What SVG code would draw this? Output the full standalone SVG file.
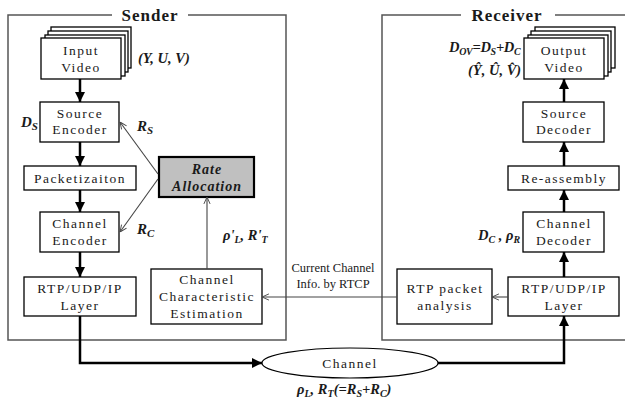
<svg xmlns="http://www.w3.org/2000/svg" width="625" height="401" viewBox="0 0 625 401">
<style>
.box{fill:#fff;stroke:#000;stroke-width:1.3}
.frame{fill:none;stroke:#555;stroke-width:1.5}
.t{font-family:"Liberation Serif","DejaVu Serif",serif;font-size:13.5px;letter-spacing:1.5px;fill:#1a1a1a;text-anchor:middle}
.title{font-family:"Liberation Serif","DejaVu Serif",serif;font-size:17px;font-weight:bold;letter-spacing:1px;fill:#1a1a1a;text-anchor:middle}
.lab{font-family:"Liberation Serif","DejaVu Serif",serif;font-size:14.5px;font-weight:bold;font-style:italic;fill:#1a1a1a}
.note{font-family:"Liberation Serif","DejaVu Serif",serif;font-size:12.5px;fill:#1a1a1a;text-anchor:middle}
.thick{fill:none;stroke:#000;stroke-width:2.5}
.thin{fill:none;stroke:#444;stroke-width:1.1}
</style>
<defs>
<marker id="ah" viewBox="0 0 10 10" refX="10" refY="5" markerWidth="4" markerHeight="4" orient="auto" markerUnits="strokeWidth">
<path d="M0,0 L10,5 L0,10 z" fill="#000"/>
</marker>
<marker id="oh" viewBox="0 0 10 10" refX="10" refY="5" markerWidth="7" markerHeight="7" orient="auto" markerUnits="strokeWidth">
<path d="M1,1 L10,5 L1,9" fill="none" stroke="#444" stroke-width="1.2"/>
</marker>
</defs>

<g id="sender-frame">
<path class="frame" d="M112,15 H8 V340 H286 V15 H188"/>
<text class="title" x="150" y="21">Sender</text>
</g>
<g id="receiver-frame">
<path class="frame" d="M461,15 H382 V340 H625 M625,15 H555"/>
<text class="title" x="507" y="21">Receiver</text>
</g>

<g id="input-video">
<rect class="box" x="51" y="27" width="80" height="41"/>
<rect class="box" x="48" y="31" width="80" height="41"/>
<rect class="box" x="45" y="35" width="80" height="41"/>
<rect class="box" x="41" y="38" width="80" height="41"/>
<text class="t" x="81" y="55">Input</text>
<text class="t" x="81" y="72">Video</text>
</g>
<g id="source-encoder">
<rect class="box" x="40" y="102" width="79" height="40"/>
<text class="t" x="80" y="118">Source</text>
<text class="t" x="80" y="134">Encoder</text>
</g>
<g id="packetization">
<rect class="box" x="24" y="166" width="112" height="24"/>
<text class="t" x="80" y="183">Packetizaiton</text>
</g>
<g id="rate-allocation">
<rect x="159" y="157" width="95" height="40" fill="#c0c0c0" stroke="#000" stroke-width="2.2"/>
<text class="t" x="207" y="174" style="font-weight:bold;font-style:italic;letter-spacing:1px;font-size:14px">Rate</text>
<text class="t" x="207" y="191" style="font-weight:bold;font-style:italic;letter-spacing:1px;font-size:14px">Allocation</text>
</g>
<g id="channel-encoder">
<rect class="box" x="40" y="212" width="79" height="40"/>
<text class="t" x="80" y="228">Channel</text>
<text class="t" x="80" y="245">Encoder</text>
</g>
<g id="sender-rtp">
<rect class="box" x="24" y="277" width="112" height="39"/>
<text class="t" x="80" y="293">RTP/UDP/IP</text>
<text class="t" x="80" y="310">Layer</text>
</g>
<g id="channel-estimation">
<rect class="box" x="151" y="269" width="111" height="55"/>
<text class="t" x="207" y="284">Channel</text>
<text class="t" x="207" y="301">Characteristic</text>
<text class="t" x="207" y="318">Estimation</text>
</g>

<g id="output-video">
<rect class="box" x="535" y="27" width="80" height="41"/>
<rect class="box" x="531" y="31" width="80" height="41"/>
<rect class="box" x="528" y="35" width="80" height="41"/>
<rect class="box" x="524" y="38" width="80" height="41"/>
<text class="t" x="564" y="55">Output</text>
<text class="t" x="564" y="72">Video</text>
</g>
<g id="source-decoder">
<rect class="box" x="523" y="102" width="81" height="40"/>
<text class="t" x="564" y="118">Source</text>
<text class="t" x="564" y="134">Decoder</text>
</g>
<g id="reassembly">
<rect class="box" x="508" y="166" width="111" height="24"/>
<text class="t" x="564" y="183">Re-assembly</text>
</g>
<g id="channel-decoder">
<rect class="box" x="523" y="212" width="81" height="40"/>
<text class="t" x="564" y="228">Channel</text>
<text class="t" x="564" y="245">Decoder</text>
</g>
<g id="receiver-rtp">
<rect class="box" x="508" y="277" width="111" height="39"/>
<text class="t" x="564" y="293">RTP/UDP/IP</text>
<text class="t" x="564" y="310">Layer</text>
</g>
<g id="rtp-analysis">
<rect class="box" x="397" y="269" width="95" height="55"/>
<text class="t" x="445" y="293">RTP packet</text>
<text class="t" x="445" y="310">analysis</text>
</g>
<g id="channel">
<ellipse cx="350" cy="363" rx="88" ry="15" fill="#fff" stroke="#000" stroke-width="1.2"/>
<text class="t" x="350" y="368">Channel</text>
</g>

<g id="connectors">
<line class="thick" x1="80" y1="79" x2="80" y2="102" marker-end="url(#ah)"/>
<line class="thick" x1="80" y1="142" x2="80" y2="166" marker-end="url(#ah)"/>
<line class="thick" x1="80" y1="190" x2="80" y2="212" marker-end="url(#ah)"/>
<line class="thick" x1="80" y1="252" x2="80" y2="277" marker-end="url(#ah)"/>
<path class="thick" d="M80,316 V363 H262" marker-end="url(#ah)"/>
<path class="thick" d="M438,363 H564 V316" marker-end="url(#ah)"/>
<line class="thick" x1="564" y1="277" x2="564" y2="252" marker-end="url(#ah)"/>
<line class="thick" x1="564" y1="212" x2="564" y2="190" marker-end="url(#ah)"/>
<line class="thick" x1="564" y1="166" x2="564" y2="142" marker-end="url(#ah)"/>
<line class="thick" x1="564" y1="102" x2="564" y2="79" marker-end="url(#ah)"/>
<line class="thin" x1="158" y1="174" x2="120" y2="122" marker-end="url(#oh)"/>
<line class="thin" x1="158" y1="179" x2="120" y2="232" marker-end="url(#oh)"/>
<line class="thin" x1="207" y1="269" x2="207" y2="197" marker-end="url(#oh)"/>
<line class="thin" x1="397" y1="297" x2="262" y2="297" marker-end="url(#oh)"/>
<line class="thin" x1="508" y1="297" x2="492" y2="297" marker-end="url(#oh)"/>
</g>

<g id="labels">
<text class="lab" x="138" y="63">(Y, U, V)</text>
<text class="lab" x="21" y="127" style="font-size:15px">D<tspan font-size="11" dy="3">S</tspan></text>
<text class="lab" x="137" y="131" style="font-size:15px">R<tspan font-size="11" dy="3">S</tspan></text>
<text class="lab" x="137" y="234" style="font-size:15px">R<tspan font-size="11" dy="3">C</tspan></text>
<text class="lab" x="223" y="240">ρ'<tspan font-size="10" dy="3">L</tspan><tspan dy="-3">, R'</tspan><tspan font-size="10" dy="3">T</tspan></text>
<text class="note" x="333" y="272">Current Channel</text>
<text class="note" x="333" y="288">Info. by RTCP</text>
<text class="lab" x="297" y="394">ρ<tspan font-size="10" dy="3">L</tspan><tspan dy="-3">,  R</tspan><tspan font-size="10" dy="3">T</tspan><tspan dy="-3">(=R</tspan><tspan font-size="10" dy="3">S</tspan><tspan dy="-3">+R</tspan><tspan font-size="10" dy="3">C</tspan><tspan dy="-3">)</tspan></text>
<text class="lab" x="478" y="240">D<tspan font-size="10" dy="3">C</tspan><tspan dy="-3"> , ρ</tspan><tspan font-size="10" dy="3">R</tspan></text>
<text class="lab" x="449" y="52" style="letter-spacing:-0.3px">D<tspan font-size="10" dy="3">OV</tspan><tspan dy="-3">=D</tspan><tspan font-size="10" dy="3">S</tspan><tspan dy="-3">+D</tspan><tspan font-size="10" dy="3">C</tspan></text>
<text class="lab" x="468" y="75">(Ŷ, Û, V̂)</text>
</g>
</svg>
